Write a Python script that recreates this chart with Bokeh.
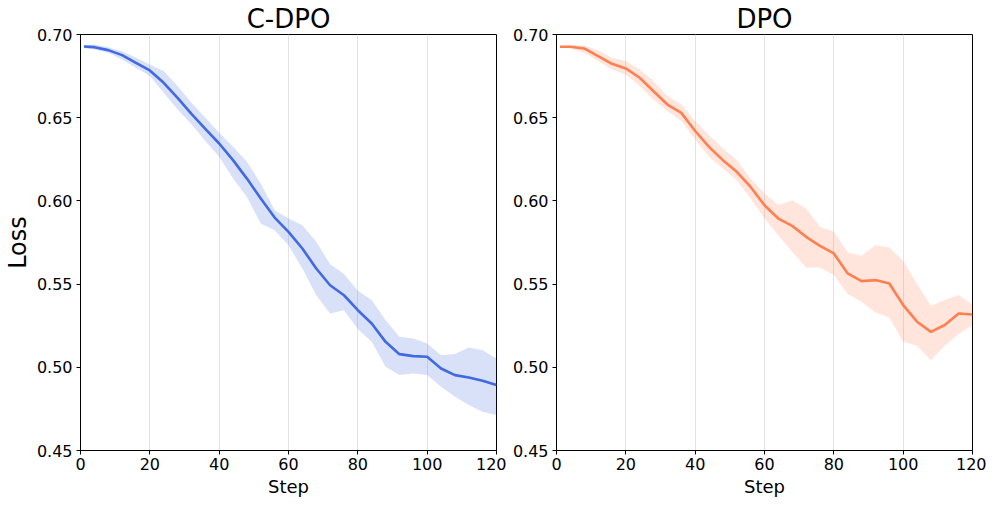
from bokeh.plotting import figure
from bokeh.layouts import row
from bokeh.models import FixedTicker, NumeralTickFormatter, Range1d
from bokeh.embed import file_html
from bokeh.resources import INLINE

steps = [1, 4, 8, 12, 16, 20, 24, 28, 32, 36, 40, 44, 48, 52, 56, 60,
         64, 68, 72, 76, 80, 84, 88, 92, 96, 100, 104, 108, 112, 116, 120]

cdpo_mean = [0.6928, 0.6924, 0.6906, 0.6876, 0.6830, 0.6784, 0.6710, 0.6619,
             0.6523, 0.6433, 0.6345, 0.6245, 0.6134, 0.6014, 0.5900, 0.5814,
             0.5714, 0.5594, 0.5493, 0.5433, 0.5343, 0.5263, 0.5153, 0.5079,
             0.5067, 0.5063, 0.4993, 0.4953, 0.4939, 0.4919, 0.4893]
cdpo_upper = [0.6935, 0.6940, 0.6924, 0.6900, 0.6860, 0.6820, 0.6780, 0.6690,
              0.6590, 0.6500, 0.6410, 0.6325, 0.6235, 0.6104, 0.5944, 0.5894,
              0.5854, 0.5754, 0.5620, 0.5560, 0.5460, 0.5404, 0.5283, 0.5183,
              0.5173, 0.5143, 0.5073, 0.5080, 0.5119, 0.5103, 0.5053]
cdpo_lower = [0.6918, 0.6910, 0.6890, 0.6850, 0.6800, 0.6750, 0.6650, 0.6550,
              0.6460, 0.6360, 0.6265, 0.6134, 0.6024, 0.5864, 0.5824, 0.5734,
              0.5594, 0.5433, 0.5323, 0.5343, 0.5230, 0.5153, 0.5003, 0.4953,
              0.4963, 0.4953, 0.4883, 0.4823, 0.4773, 0.4733, 0.4713]

dpo_mean = [0.6926, 0.6926, 0.6916, 0.6870, 0.6824, 0.6796, 0.6740, 0.6659,
            0.6579, 0.6529, 0.6420, 0.6325, 0.6245, 0.6175, 0.6084, 0.5974,
            0.5894, 0.5850, 0.5784, 0.5730, 0.5684, 0.5564, 0.5518, 0.5524,
            0.5504, 0.5374, 0.5274, 0.5213, 0.5254, 0.5323, 0.5317]
dpo_upper = [0.6930, 0.6935, 0.6936, 0.6904, 0.6860, 0.6840, 0.6790, 0.6720,
             0.6630, 0.6580, 0.6480, 0.6395, 0.6315, 0.6245, 0.6134, 0.6044,
             0.5974, 0.6004, 0.5955, 0.5845, 0.5815, 0.5690, 0.5670, 0.5734,
             0.5720, 0.5640, 0.5500, 0.5370, 0.5405, 0.5434, 0.5374]
dpo_lower = [0.6920, 0.6918, 0.6890, 0.6840, 0.6790, 0.6760, 0.6690, 0.6610,
             0.6540, 0.6480, 0.6370, 0.6265, 0.6195, 0.6124, 0.6014, 0.5894,
             0.5794, 0.5694, 0.5600, 0.5600, 0.5554, 0.5440, 0.5394, 0.5330,
             0.5300, 0.5154, 0.5130, 0.5043, 0.5130, 0.5200, 0.5254]

x_ticks = [0, 20, 40, 60, 80, 100, 120]
y_ticks = [0.45, 0.50, 0.55, 0.60, 0.65, 0.70]

FONT = "DejaVu Sans"


def make(title, color, mean, lo, hi, ylabel, bl, br):
    p = figure(frame_width=416, frame_height=416,
               x_range=Range1d(0, 120), y_range=Range1d(0.45, 0.70),
               output_backend="svg", toolbar_location=None,
               min_border_left=bl, min_border_right=br,
               min_border_top=32, min_border_bottom=40)
    p.title.text = title
    p.title.align = "center"
    p.title.text_font = FONT
    p.title.text_font_size = "26px"
    p.title.text_font_style = "normal"
    p.title.text_color = "black"
    p.title.standoff = 2
    p.varea(x=steps, y1=lo, y2=hi, fill_color=color, fill_alpha=0.2)
    p.line(x=steps, y=mean, line_color=color, line_width=2.6)
    p.outline_line_color = "black"
    p.outline_line_width = 1
    p.ygrid.visible = False
    p.xgrid.grid_line_color = "#e3e3e3"
    p.xgrid.grid_line_width = 1
    p.xgrid.ticker = FixedTicker(ticks=x_ticks)
    p.xaxis.ticker = FixedTicker(ticks=x_ticks)
    p.yaxis.ticker = FixedTicker(ticks=y_ticks)
    p.yaxis.formatter = NumeralTickFormatter(format="0.00")
    for ax in (p.xaxis, p.yaxis):
        ax.major_label_text_font = FONT
        ax.major_label_text_font_size = "16px"
        ax.major_label_text_color = "black"
        ax.axis_line_color = "black"
        ax.major_tick_line_color = "black"
        ax.major_tick_out = 4
        ax.major_tick_in = 0
        ax.minor_tick_line_color = None
        ax.axis_label_text_font = FONT
        ax.axis_label_text_font_style = "normal"
        ax.axis_label_text_color = "black"
    p.xaxis.major_label_standoff = 3
    p.yaxis.major_label_standoff = 4
    p.xaxis.axis_label = "Step"
    p.xaxis.axis_label_text_font_size = "18px"
    p.xaxis.axis_label_standoff = 3
    if ylabel:
        p.yaxis.axis_label = ylabel
        p.yaxis.axis_label_text_font_size = "24px"
        p.yaxis.axis_label_standoff = 2
    return p


p1 = make("C-DPO", "#4169E1", cdpo_mean, cdpo_lower, cdpo_upper, "Loss", 72, 10)
p2 = make("DPO", "#FF7F50", dpo_mean, dpo_lower, dpo_upper, None, 50, 14)

layout = row(p1, p2)
open("out.html", "w").write(file_html(layout, INLINE))
